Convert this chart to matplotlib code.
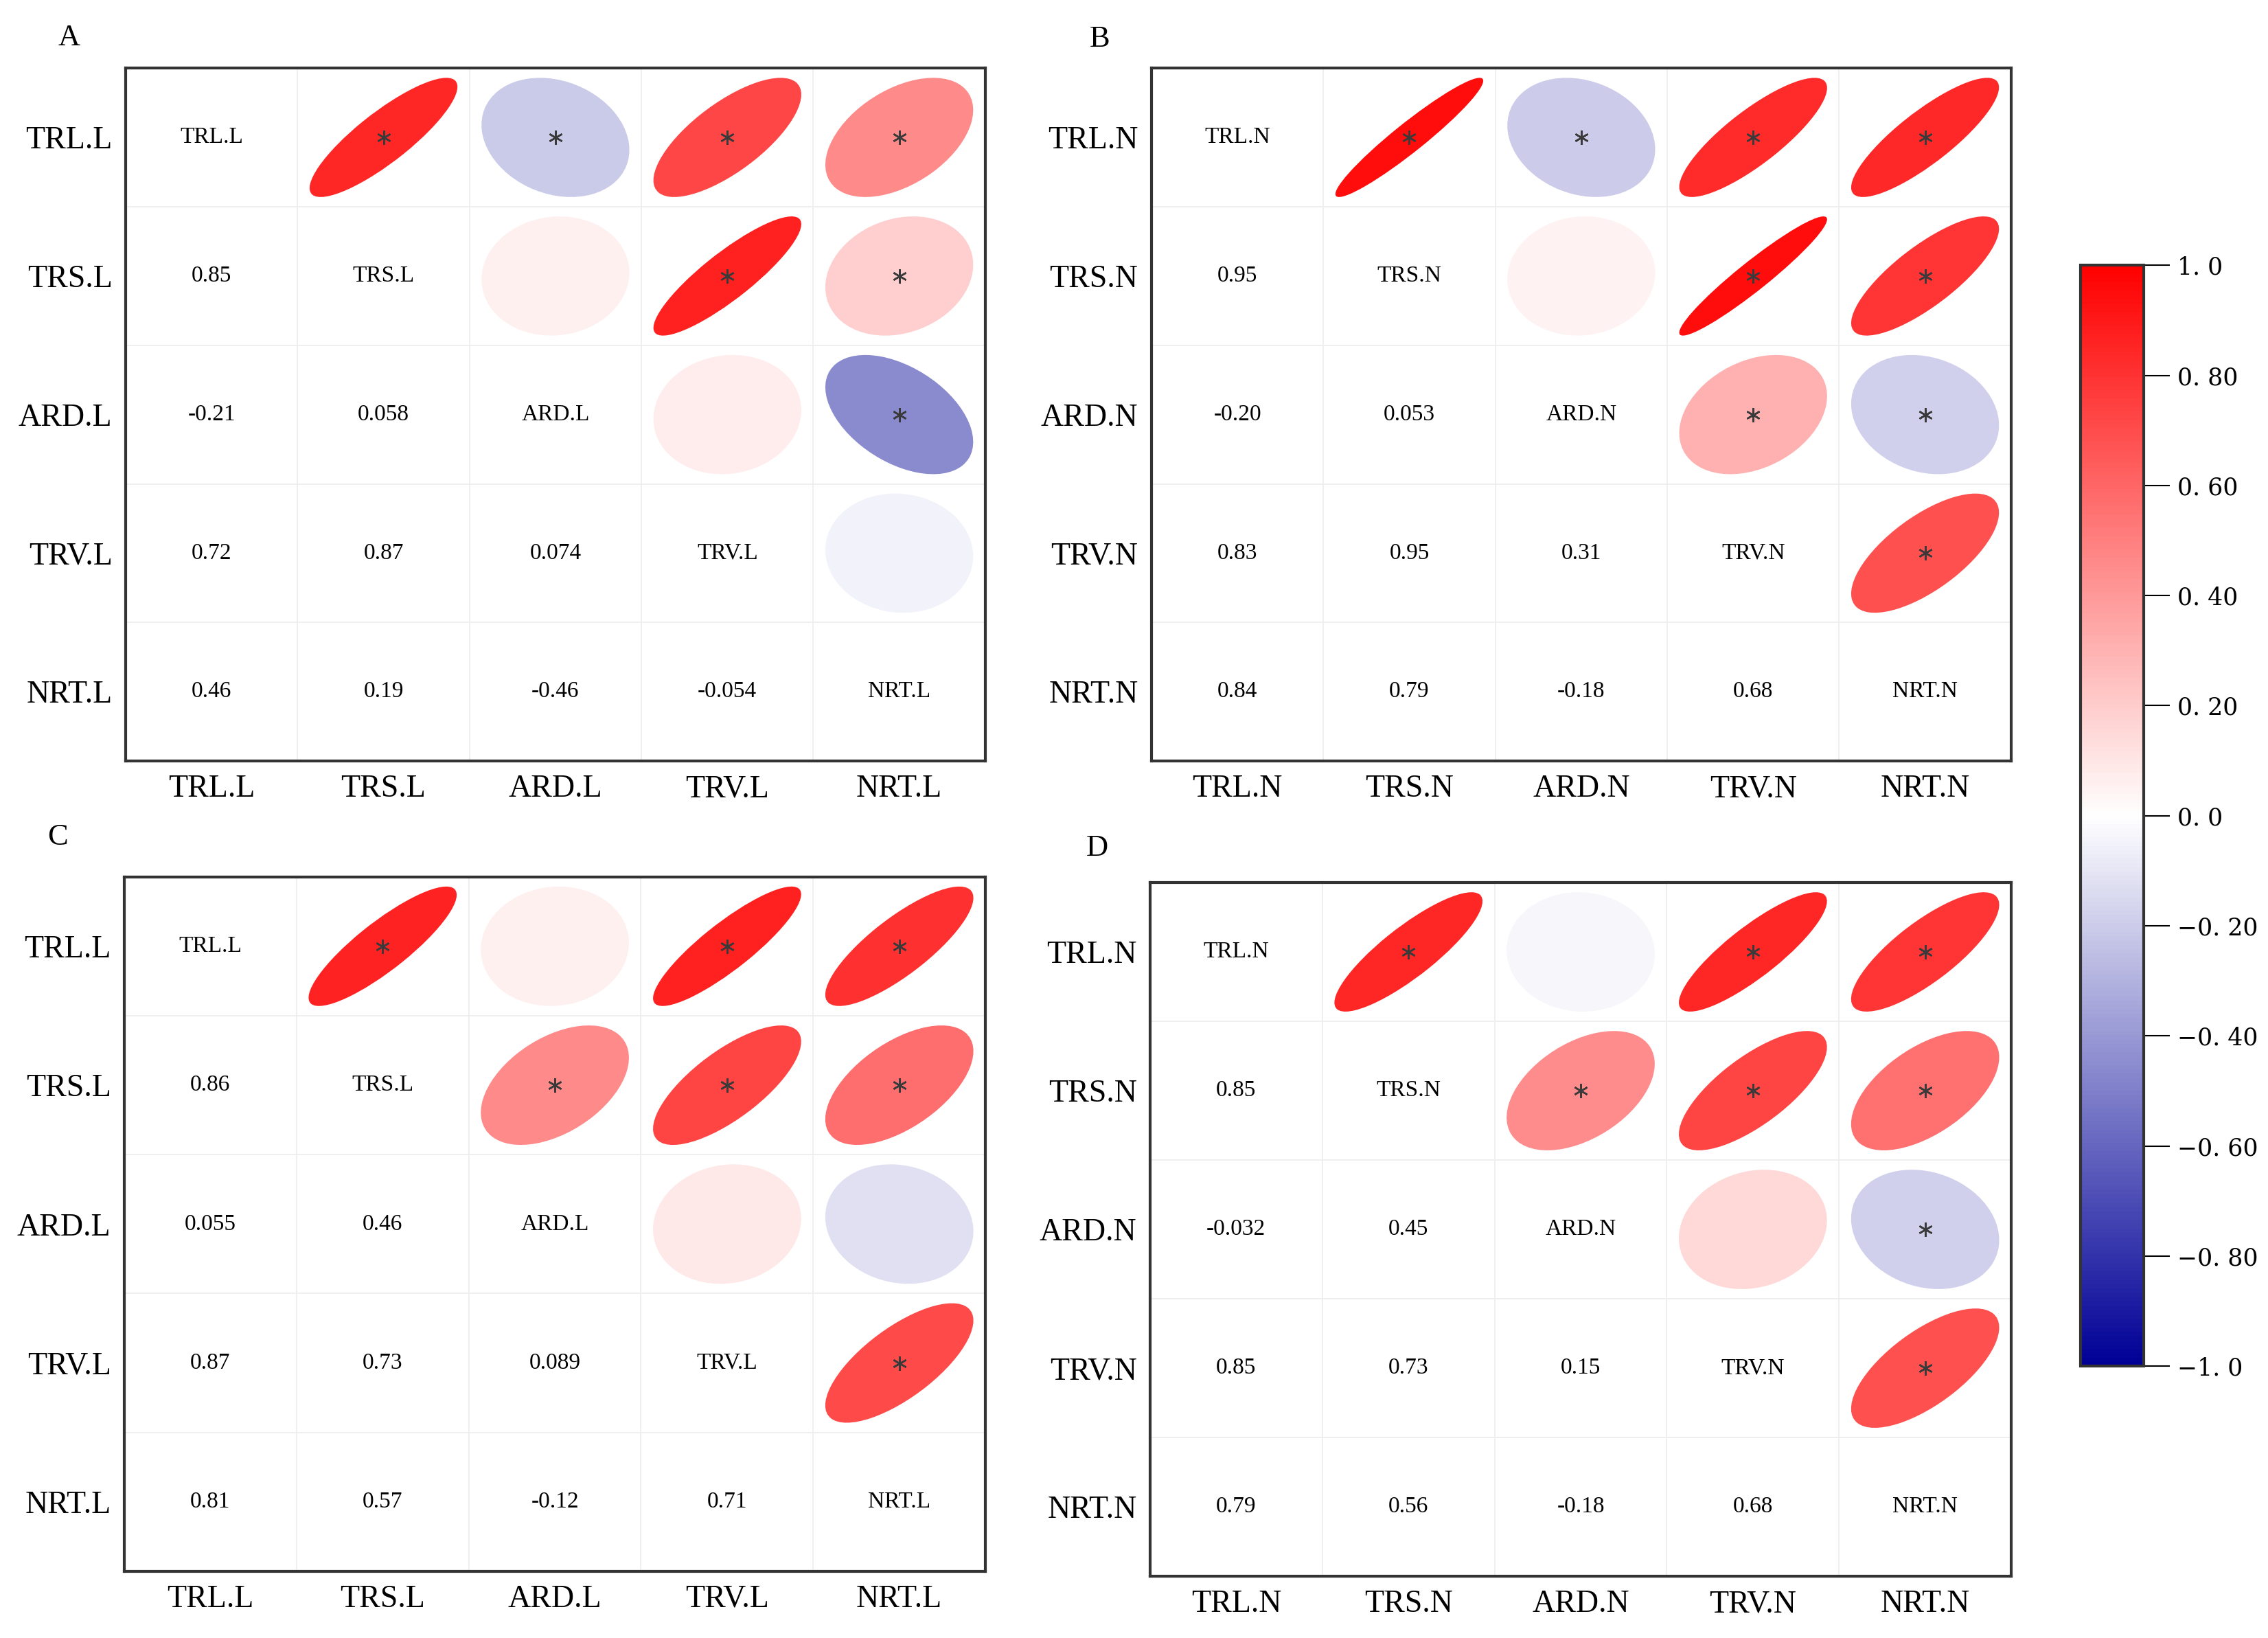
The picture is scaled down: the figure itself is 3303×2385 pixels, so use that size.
import numpy as np
import matplotlib
matplotlib.use('Agg')
import matplotlib.pyplot as plt
from matplotlib.patches import Ellipse
from matplotlib.colors import LinearSegmentedColormap, Normalize
from matplotlib.cm import ScalarMappable

plt.rcParams['font.family'] = ['Liberation Serif', 'DejaVu Serif']

# variable names for the two groups
vars_L = ['TRL.L', 'TRS.L', 'ARD.L', 'TRV.L', 'NRT.L']
vars_N = ['TRL.N', 'TRS.N', 'ARD.N', 'TRV.N', 'NRT.N']

# lower triangle, pair order: (1,0),(2,0),(2,1),(3,0),(3,1),(3,2),(4,0),(4,1),(4,2),(4,3)
corr_A = [0.85, -0.21, 0.058, 0.72, 0.87, 0.074, 0.46, 0.19, -0.46, -0.054]
corr_B = [0.95, -0.20, 0.053, 0.83, 0.95, 0.31, 0.84, 0.79, -0.18, 0.68]
corr_C = [0.86, 0.055, 0.46, 0.87, 0.73, 0.089, 0.81, 0.57, -0.12, 0.71]
corr_D = [0.85, -0.032, 0.45, 0.85, 0.73, 0.15, 0.79, 0.56, -0.18, 0.68]

# significance flags (same pair order)
sig_A = [1, 1, 0, 1, 1, 0, 1, 1, 1, 0]
sig_B = [1, 1, 0, 1, 1, 1, 1, 1, 1, 1]
sig_C = [1, 0, 1, 1, 1, 0, 1, 1, 0, 1]
sig_D = [1, 0, 1, 1, 1, 0, 1, 1, 1, 1]

cbar_ticks = [-1.0, -0.8, -0.6, -0.4, -0.2, 0.0, 0.2, 0.4, 0.6, 0.8, 1.0]
cbar_labels = ['\u22121. 0', '\u22120. 80', '\u22120. 60', '\u22120. 40', '\u22120. 20',
               '0. 0', '0. 20', '0. 40', '0. 60', '0. 80', '1. 0']

cmap = LinearSegmentedColormap.from_list('bwr2', ['#000096', '#ffffff', '#ff0000'])
norm = Normalize(-1, 1)

pairs = [(i, j) for i in range(1, 5) for j in range(i)]


def fmt(v):
    return np.format_float_positional(v, precision=2, unique=False, fractional=False, trim='k')


def draw_panel(ax, names, corr, sig, letter, lx, ly):
    n = len(names)
    ax.set_xlim(-0.5, n - 0.5)
    ax.set_ylim(n - 0.5, -0.5)
    # light cell grid
    for k in range(1, n):
        ax.axvline(k - 0.5, color='#ececec', lw=1.2, zorder=0)
        ax.axhline(k - 0.5, color='#ececec', lw=1.2, zorder=0)
    for d in range(n):
        ax.text(d, d, names[d], ha='center', va='center', fontsize=24)
    s = 0.43
    for (i, j), r, sg in zip(pairs, corr, sig):
        # lower: numbers
        ax.text(j, i, fmt(r), ha='center', va='center', fontsize=24)
        # upper: ellipse
        dd = np.arccos(r)
        w = 2 * np.sqrt(2) * np.cos(dd / 2) * s
        h = 2 * np.sqrt(2) * np.sin(dd / 2) * s
        e = Ellipse((i, j), w, h, angle=-45, facecolor=cmap(norm(r)), edgecolor='none', zorder=2)
        ax.add_patch(e)
        if sg:
            ax.plot(i, j, marker=(6, 2, 0), ms=15, mew=1.8, color='#3a3a3a', zorder=3)
    ax.set_xticks(range(n))
    ax.set_yticks(range(n))
    ax.set_xticklabels(names, fontsize=33)
    ax.set_yticklabels(names, fontsize=33)
    ax.tick_params(length=0, pad=14)
    for sp in ax.spines.values():
        sp.set_linewidth(3)
        sp.set_color('#333333')
    ax.figure.text(lx, ly, letter, fontsize=32, ha='center', va='center')


fig = plt.figure(figsize=(33.03, 23.85), dpi=100)

axA = fig.add_axes([0.0554, 0.5354, 0.379, 0.423])
axB = fig.add_axes([0.5077, 0.5354, 0.379, 0.423])
axC = fig.add_axes([0.0548, 0.0407, 0.3797, 0.424])
axD = fig.add_axes([0.5071, 0.0377, 0.3797, 0.4235])

draw_panel(axA, vars_L, corr_A, sig_A, 'A', 0.0306, 0.977)
draw_panel(axB, vars_N, corr_B, sig_B, 'B', 0.4848, 0.976)
draw_panel(axC, vars_L, corr_C, sig_C, 'C', 0.0255, 0.489)
draw_panel(axD, vars_N, corr_D, sig_D, 'D', 0.4836, 0.482)

cax = fig.add_axes([0.9173, 0.166, 0.028, 0.672])
cb = fig.colorbar(ScalarMappable(norm=norm, cmap=cmap), cax=cax)
cb.set_ticks(cbar_ticks)
cb.set_ticklabels(cbar_labels)
cb.outline.set_linewidth(3)
cb.outline.set_edgecolor('#333333')
cax.tick_params(length=27, width=1.5, labelsize=25, pad=8)
for t in cax.get_yticklabels():
    t.set_family('DejaVu Serif')

fig.savefig('out.png', dpi=100)
